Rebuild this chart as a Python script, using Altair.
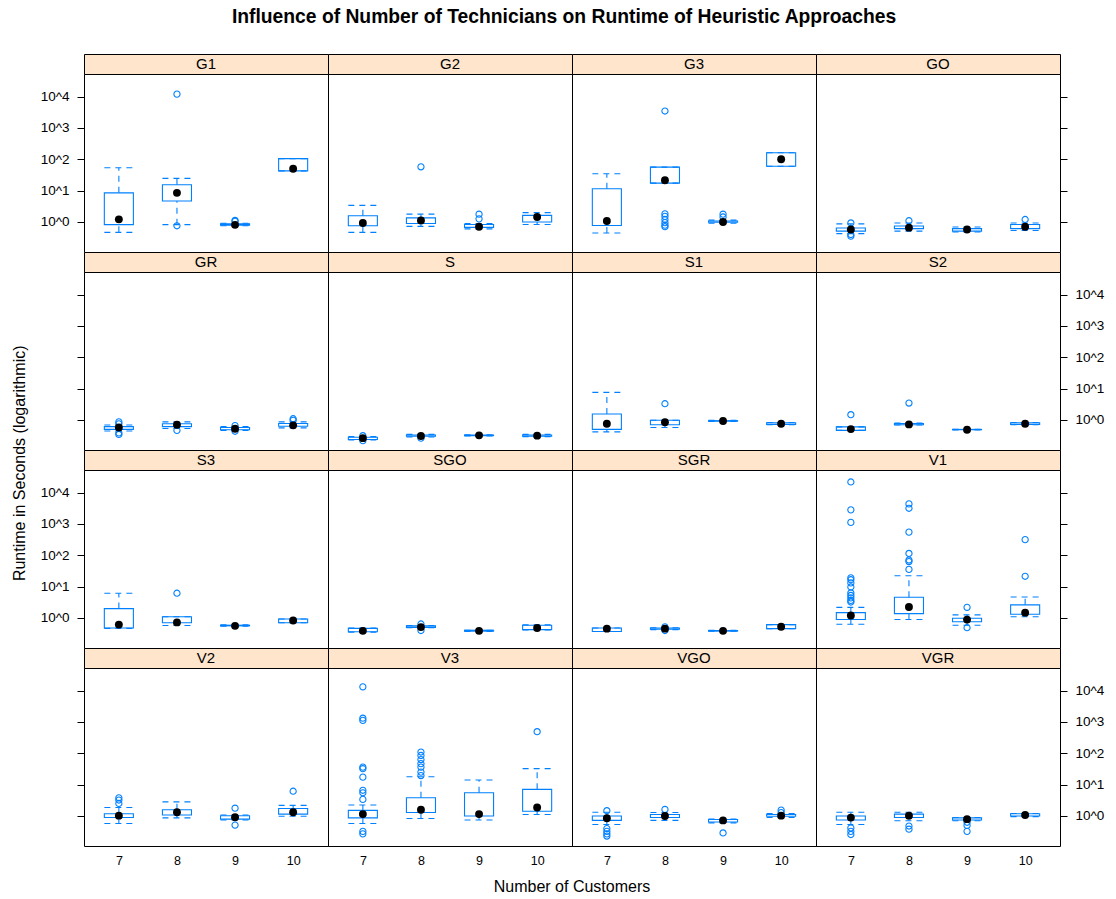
import altair as alt
import pandas as pd

# ---------------- data (log10 of runtime in seconds) ----------------
METHODS = ["G1", "G2", "G3", "GO", "GR", "S", "S1", "S2",
           "S3", "SGO", "SGR", "V1", "V2", "V3", "VGO", "VGR"]
CUSTOMERS = [7, 8, 9, 10]

LOWER = [
    [-0.33, -0.085, -0.12, 1.63],
    [-0.33, -0.14, -0.22, -0.08],
    [-0.35, 1.24, -0.04, 1.78],
    [-0.37, -0.29, -0.32, -0.27],
    [-0.35, -0.27, -0.33, -0.25],
    [-0.64, -0.54, -0.51, -0.53],
    [-0.38, -0.24, -0.05, -0.15],
    [-0.33, -0.16, -0.32, -0.15],
    [-0.33, -0.24, -0.26, -0.15],
    [-0.45, -0.31, -0.43, -0.38],
    [-0.43, -0.37, -0.42, -0.34],
    [-0.20, -0.05, -0.23, 0.04],
    [-0.24, -0.06, -0.13, -0.01],
    [-0.24, -0.08, -0.13, 0.05],
    [-0.27, -0.14, -0.22, -0.05],
    [-0.27, -0.15, -0.15, -0.02],
]
Q1 = [
    [-0.085, 0.67, -0.10, 1.63],
    [-0.12, -0.05, -0.17, 0.00],
    [-0.11, 1.24, -0.01, 1.78],
    [-0.29, -0.21, -0.29, -0.21],
    [-0.30, -0.21, -0.31, -0.20],
    [-0.62, -0.52, -0.50, -0.52],
    [-0.30, -0.15, -0.04, -0.14],
    [-0.33, -0.15, -0.31, -0.14],
    [-0.32, -0.15, -0.25, -0.15],
    [-0.44, -0.30, -0.42, -0.37],
    [-0.43, -0.36, -0.42, -0.34],
    [-0.05, 0.14, -0.12, 0.12],
    [-0.05, 0.03, -0.10, 0.06],
    [-0.06, 0.11, 0.00, 0.15],
    [-0.14, -0.05, -0.19, -0.01],
    [-0.13, -0.05, -0.13, 0.00],
]
MEDIAN = [
    [0.085, 0.93, -0.09, 1.70],
    [-0.03, 0.05, -0.15, 0.16],
    [0.03, 1.33, 0.00, 2.00],
    [-0.24, -0.18, -0.24, -0.15],
    [-0.24, -0.15, -0.28, -0.17],
    [-0.58, -0.51, -0.49, -0.50],
    [-0.12, -0.07, -0.03, -0.12],
    [-0.29, -0.14, -0.31, -0.12],
    [-0.21, -0.14, -0.25, -0.08],
    [-0.41, -0.29, -0.41, -0.32],
    [-0.34, -0.34, -0.41, -0.28],
    [0.08, 0.35, -0.05, 0.17],
    [0.01, 0.12, -0.04, 0.12],
    [0.06, 0.20, 0.06, 0.27],
    [-0.07, 0.00, -0.14, 0.01],
    [-0.05, 0.01, -0.10, 0.03],
]
Q3 = [
    [0.93, 1.19, -0.06, 2.02],
    [0.20, 0.13, -0.08, 0.21],
    [1.06, 1.75, 0.03, 2.21],
    [-0.19, -0.13, -0.21, -0.08],
    [-0.21, -0.12, -0.24, -0.11],
    [-0.55, -0.48, -0.48, -0.48],
    [0.19, -0.01, -0.02, -0.09],
    [-0.22, -0.11, -0.30, -0.09],
    [0.30, 0.04, -0.23, -0.03],
    [-0.33, -0.25, -0.39, -0.23],
    [-0.32, -0.32, -0.40, -0.21],
    [0.17, 0.66, -0.01, 0.42],
    [0.07, 0.20, 0.01, 0.24],
    [0.18, 0.58, 0.74, 0.85],
    [0.00, 0.05, -0.11, 0.05],
    [0.00, 0.06, -0.06, 0.07],
]
UPPER = [
    [1.73, 1.39, -0.04, 2.02],
    [0.53, 0.25, -0.05, 0.30],
    [1.54, 1.75, 0.06, 2.21],
    [-0.06, -0.03, -0.16, -0.03],
    [-0.16, -0.06, -0.21, -0.06],
    [-0.53, -0.46, -0.47, -0.46],
    [0.88, -0.01, -0.01, -0.08],
    [-0.22, -0.10, -0.30, -0.08],
    [0.79, 0.04, -0.22, -0.03],
    [-0.32, -0.24, -0.39, -0.22],
    [-0.32, -0.31, -0.39, -0.21],
    [0.34, 1.35, 0.10, 0.67],
    [0.27, 0.45, 0.03, 0.34],
    [0.35, 1.25, 1.15, 1.51],
    [0.12, 0.11, -0.10, 0.08],
    [0.12, 0.12, -0.05, 0.08],
]
OUTLIERS = [
    [[], [4.08, -0.12], [0.05, 0.02], []],
    [[], [1.76], [0.10, 0.25], []],
    [[], [3.54, 0.26, 0.18, 0.08, -0.02, -0.10, -0.15], [0.16, 0.25], []],
    [[-0.03, -0.40, -0.45], [0.04], [], [0.08]],
    [[-0.06, -0.12, -0.41, -0.46], [-0.33], [-0.18, -0.36], [0.04, -0.01]],
    [[-0.50, -0.66], [-0.58], [], []],
    [[], [0.52], [], []],
    [[0.17], [0.54], [], []],
    [[], [0.79], [], []],
    [[], [-0.19, -0.40], [], []],
    [[], [-0.28, -0.40], [], []],
    [[4.34, 3.45, 3.05, 1.28, 1.22, 1.12, 0.99, 0.80, 0.72, 0.64, 0.56, 0.51],
     [3.64, 3.50, 2.74, 2.06, 1.85, 1.80, 1.55], [0.34, -0.31], [2.50, 1.33]],
    [[0.58, 0.51, 0.40], [], [0.25, -0.29], [0.79]],
    [[4.12, 3.12, 3.05, 1.56, 1.51, 1.24, 0.82, 0.74, 0.53, -0.49, -0.57],
     [2.04, 1.93, 1.80, 1.67, 1.56, 1.40, 1.29], [], [2.69]],
    [[0.17, -0.40, -0.49, -0.57, -0.64], [0.21], [-0.54], [0.19, 0.11]],
    [[-0.38, -0.49, -0.59], [-0.32, -0.42], [-0.20, -0.30, -0.49], []],
]
Y_TICKS = [0, 1, 2, 3, 4]

# ---------------- style ----------------
FONT = "Liberation Sans"
BLUE = "#0080ff"
STRIP = "#ffe5cc"
W, STRIP_H, PLOT_H = 244, 20, 178
XDOM = [0.4, 4.6]
YDOM = [-0.957, 4.721]
DASH = [6, 5]


def plot_cell(i):
    row, col = divmod(i, 4)
    box = pd.DataFrame({
        "pos": list(range(1, len(CUSTOMERS) + 1)),
        "lower": LOWER[i], "q1": Q1[i], "med": MEDIAN[i],
        "q3": Q3[i], "upper": UPPER[i],
    })
    rows = [{"pos": j + 1, "value": v} for j in range(4) for v in OUTLIERS[i][j]]
    out = pd.DataFrame(rows, columns=["pos", "value"])

    common_y = dict(values=Y_TICKS, labelExpr="'10^' + datum.value",
                    tickSize=7, tickColor="black", labelPadding=8,
                    labelFontSize=13.5, labelFont=FONT, labelColor="black",
                    domain=False, grid=False, title=None, labelFlush=False)
    if col == 0:
        yaxis = alt.Axis(orient="left", labels=(row % 2 == 0), **common_y)
    elif col == 3:
        yaxis = alt.Axis(orient="right", labels=(row % 2 == 1), **common_y)
    else:
        yaxis = None
    if row == 3:
        xaxis = alt.Axis(values=[1, 2, 3, 4], labelExpr="'' + (datum.value + 6)",
                         ticks=False, labelPadding=8, labelFontSize=12.5,
                         labelFont=FONT, labelColor="black", domain=False,
                         grid=False, title=None, labelFlush=False)
    else:
        xaxis = None

    xs = alt.Scale(domain=XDOM, nice=False, zero=False)
    ys = alt.Scale(domain=YDOM, nice=False, zero=False)

    def X(f):
        return alt.X(f"{f}:Q", scale=xs, axis=xaxis)

    def Y(f):
        return alt.Y(f"{f}:Q", scale=ys, axis=yaxis)

    base = alt.Chart(box).transform_calculate(
        lo="datum.pos - 0.25", hi="datum.pos + 0.25")
    rect = base.mark_rect(fill="transparent", stroke=BLUE, strokeWidth=1.1).encode(
        x=X("lo"), x2="hi", y=Y("q1"), y2="q3")
    wu = base.mark_rule(color=BLUE, strokeDash=DASH, strokeWidth=1.1).encode(
        x=X("pos"), y=Y("q3"), y2="upper")
    wl = base.mark_rule(color=BLUE, strokeDash=DASH, strokeWidth=1.1).encode(
        x=X("pos"), y=Y("lower"), y2="q1")
    cu = base.mark_rule(color=BLUE, strokeDash=DASH, strokeWidth=1.1).encode(
        x=X("lo"), x2="hi", y=Y("upper"))
    cl = base.mark_rule(color=BLUE, strokeDash=DASH, strokeWidth=1.1).encode(
        x=X("lo"), x2="hi", y=Y("lower"))
    pts = alt.Chart(out).mark_point(color=BLUE, size=38, strokeWidth=1.1,
                                    opacity=1, filled=False).encode(
        x=X("pos"), y=Y("value"))
    med = base.mark_point(color="black", filled=True, size=62, opacity=1).encode(
        x=X("pos"), y=Y("med"))
    return alt.layer(rect, wu, wl, cu, cl, pts, med).properties(
        width=W, height=PLOT_H)


def strip_cell(i):
    return alt.Chart(pd.DataFrame({"name": [METHODS[i]]})).mark_text(
        font=FONT, fontSize=15, color="black").encode(
        text="name:N").properties(
        width=W, height=STRIP_H,
        view=alt.ViewBackground(fill=STRIP, stroke="black", strokeWidth=1))


cells = []
for r in range(4):
    for c in range(4):
        cells.append(strip_cell(r * 4 + c))
    for c in range(4):
        cells.append(plot_cell(r * 4 + c))

grid = alt.concat(*cells, columns=4, spacing=0, bounds="flush", align="each",
                  title=alt.TitleParams("Number of Customers", orient="bottom",
                                        anchor="middle",
                                        fontSize=16, fontWeight="normal",
                                        font=FONT, color="black", offset=12))
mid = alt.vconcat(grid, title=alt.TitleParams(
    "Runtime in Seconds (logarithmic)", orient="left", anchor="middle",
    fontSize=16, fontWeight="normal", font=FONT, color="black", offset=12,
    dx=11))
chart = alt.vconcat(mid, title=alt.TitleParams(
    "Influence of Number of Technicians on Runtime of Heuristic Approaches",
    fontSize=19.3, fontWeight="bold", font=FONT, color="black", offset=26,
    anchor="middle", dx=6)).properties(
    padding={"left": 11, "top": 8, "right": 5, "bottom": 5},
    background="white",
).configure_view(stroke="black", strokeWidth=1).configure_concat(spacing=0)

chart.save("out.html", embed_options={"renderer": "svg", "actions": False})
